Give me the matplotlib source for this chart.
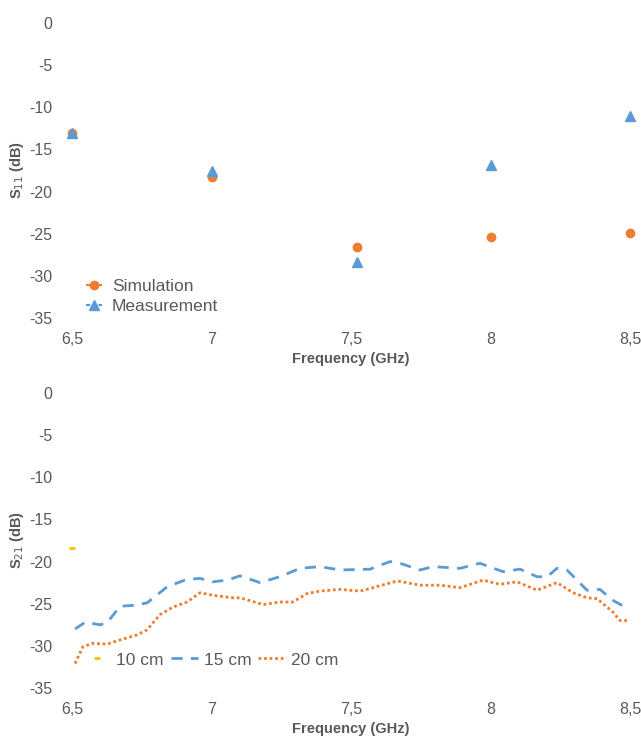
import matplotlib.pyplot as plt
from matplotlib.lines import Line2D

plt.rcParams['font.family'] = ['Liberation Sans', 'DejaVu Sans']

# top chart: S11 points
freq_s11 = [6.5, 7.0, 7.52, 8.0, 8.5]
s11_sim = [-13.0, -18.3, -26.6, -25.4, -24.9]
s11_meas = [-13.1, -17.5, -28.3, -16.9, -11.0]

# bottom chart: S21 curves
s21_10_freq = [6.5]
s21_10 = [-18.4]

s21_15_freq = [6.511, 6.547, 6.600, 6.625, 6.672, 6.719, 6.769, 6.841, 6.912, 6.959,
               7.005, 7.056, 7.102, 7.174, 7.245, 7.317, 7.389, 7.461, 7.568, 7.640,
               7.676, 7.747, 7.794, 7.891, 7.962, 8.045, 8.106, 8.167, 8.203, 8.238,
               8.274, 8.346, 8.392, 8.439, 8.482]
s21_15 = [-28.0, -27.2, -27.5, -27.3, -25.3, -25.2, -24.9, -23.0, -22.1, -22.0,
          -22.4, -22.2, -21.7, -22.5, -21.8, -20.8, -20.6, -21.0, -20.9, -20.0,
          -20.2, -21.0, -20.6, -20.8, -20.2, -21.2, -20.9, -21.8, -21.8, -20.8,
          -21.0, -23.4, -23.3, -24.6, -25.4]

s21_20_freq = [6.511, 6.539, 6.575, 6.625, 6.672, 6.733, 6.769, 6.815, 6.862, 6.912,
               6.959, 7.005, 7.077, 7.102, 7.185, 7.245, 7.292, 7.342, 7.389, 7.461,
               7.532, 7.568, 7.665, 7.747, 7.819, 7.891, 7.973, 8.034, 8.095, 8.167,
               8.238, 8.296, 8.346, 8.382, 8.439, 8.464, 8.489]
s21_20 = [-32.1, -30.1, -29.7, -29.8, -29.3, -28.7, -28.1, -26.3, -25.4, -24.8,
          -23.7, -24.0, -24.3, -24.3, -25.1, -24.8, -24.8, -23.8, -23.5, -23.3,
          -23.5, -23.2, -22.3, -22.8, -22.8, -23.1, -22.2, -22.7, -22.4, -23.4,
          -22.5, -23.7, -24.3, -24.4, -26.0, -27.0, -27.0]

xticks = [6.5, 7, 7.5, 8, 8.5]
xticklabels = ['6,5', '7', '7,5', '8', '8,5']
yticks = [0, -5, -10, -15, -20, -25, -30, -35]

orange = '#ED7D31'
blue = '#5B9BD5'
yellow = '#FFC000'
grey = '#595959'

fig = plt.figure(figsize=(6.41, 7.40), dpi=100)
ax1 = fig.add_axes([72/641, 1-318/740, 558/641, 295/740])
ax2 = fig.add_axes([72/641, 1-688/740, 558/641, 295/740])

def style(ax, ylab):
    ax.set_xlim(6.5, 8.5)
    ax.set_ylim(-35, 0)
    ax.set_xticks(xticks)
    ax.set_xticklabels(xticklabels)
    ax.set_yticks(yticks)
    ax.set_yticklabels([str(t) for t in yticks])
    for s in ax.spines.values():
        s.set_visible(False)
    ax.tick_params(length=0, labelsize=11.5, colors=grey)
    ax.tick_params(axis='y', pad=14)
    ax.tick_params(axis='x', pad=10)
    ax.set_xlabel('Frequency (GHz)', fontsize=10.5, fontweight='bold', color=grey)
    ax.xaxis.set_label_coords(0.5, -0.115)
    ax.set_ylabel(ylab, fontsize=10.5, fontweight='bold', color=grey)
    ax.yaxis.set_label_coords(-0.082, 0.5)

# top
ax1.plot(freq_s11, s11_sim, linestyle='none', marker='o', markersize=6, color=orange, clip_on=False)
ax1.plot(freq_s11, s11_meas, linestyle='none', marker='^', markersize=7, color=blue, clip_on=False)
style(ax1, r'S$_{11}$ (dB)')
h1 = [Line2D([], [], color=orange, linestyle=(0, (2, 1)), marker='o', markersize=6),
      Line2D([], [], color=blue, linestyle=(0, (2, 1)), marker='^', markersize=7)]
ax1.legend(h1, ['Simulation', 'Measurement'], loc='center left', bbox_to_anchor=(0.025, 0.073),
           frameon=False, fontsize=12.5, handlelength=0.9, handletextpad=0.6,
           labelspacing=0.3, labelcolor=grey, borderaxespad=0, borderpad=0)

# bottom
ax2.plot(s21_10_freq, s21_10, linestyle='none', marker='_', markersize=5, mew=2, color=yellow,
         label='10 cm', clip_on=False)
ax2.plot(s21_15_freq, s21_15, linestyle=(0, (4, 3)), linewidth=2, color=blue, label='15 cm')
ax2.plot(s21_20_freq, s21_20, linestyle=(0, (1, 1)), linewidth=2, color=orange, label='20 cm')
style(ax2, r'S$_{21}$ (dB)')
ax2.legend(loc='center left', bbox_to_anchor=(0.02, 0.095), ncol=3, frameon=False, fontsize=12.5,
           handlelength=1.6, handletextpad=0.3, columnspacing=0.4, labelcolor=grey,
           borderaxespad=0, borderpad=0)

fig.savefig('out.png', dpi=100)
